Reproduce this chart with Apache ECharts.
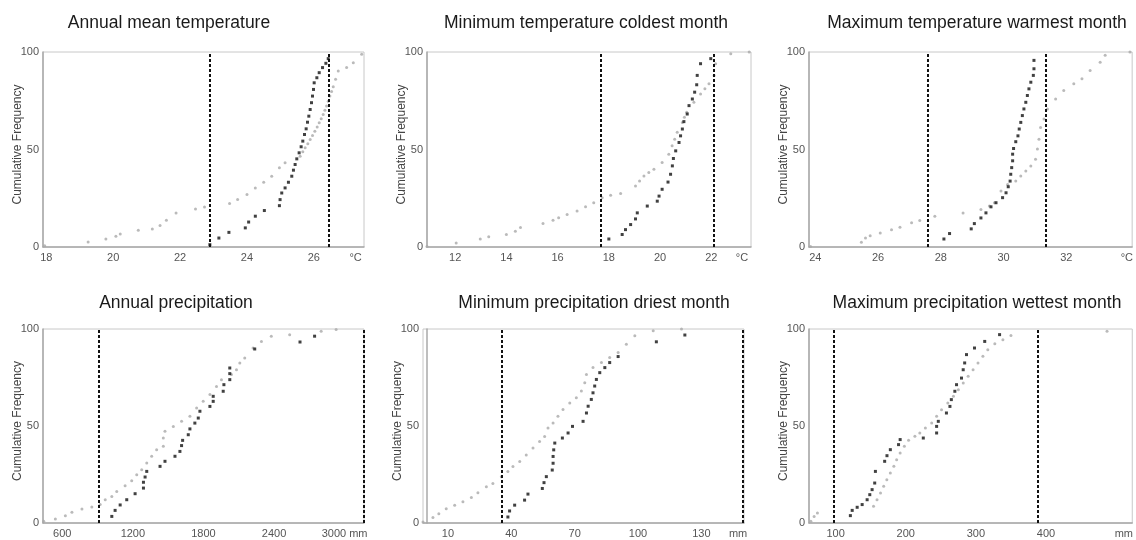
<!DOCTYPE html>
<html>
<head>
<meta charset="utf-8">
<title>Cumulative frequency of climate variables</title>
<script src="https://cdn.jsdelivr.net/npm/echarts@6/dist/echarts.min.js"></script>
<style>
  html, body { margin: 0; padding: 0; background: #fff; }
  #chart { width: 1136px; height: 540px; }
</style>
</head>
<body>
<div id="chart"></div>
<script>
// Cumulative frequency (%) against each climate variable.
// "all" = full set of localities (grey marks), "sub" = subset (black marks),
// "bounds" = the two dashed reference limits.

const panelTitles = [
  'Annual mean temperature',
  'Minimum temperature coldest month',
  'Maximum temperature warmest month',
  'Annual precipitation',
  'Minimum precipitation driest month',
  'Maximum precipitation wettest month'
];

// Annual mean temperature (°C)
const amtAll = [[17.95,0.7],[19.25,2.6],[19.78,4.1],[20.08,5.5],[20.21,6.7],[20.75,8.6],[21.17,9.2],[21.4,11],[21.59,13.7],[21.88,17.5],[22.46,19.5],[22.73,20.5],[23.48,22.3],[23.72,24.3],[24.0,26.9],[24.25,30.3],[24.5,33.2],[24.74,36.3],[24.97,40.6],[25.14,43.2],[25.59,46.6],[25.67,48.8],[25.74,50.9],[25.82,53],[25.89,55.1],[25.96,57.2],[26.03,59.4],[26.1,61.5],[26.16,63.7],[26.22,65.8],[26.28,68],[26.33,70.1],[26.38,72.3],[26.43,74.8],[26.48,77.4],[26.53,79.8],[26.58,82.2],[26.65,86],[26.73,90.2],[26.98,92],[27.18,94.5],[27.43,98.8]];
const amtSub = [[22.89,1.2],[23.16,4.6],[23.46,7.5],[23.95,9.8],[24.05,12.8],[24.25,15.8],[24.52,18.7],[24.97,21.2],[24.99,24.3],[25.04,27.7],[25.14,30.3],[25.24,33.2],[25.34,36.3],[25.39,39.4],[25.44,42.3],[25.49,45.2],[25.56,48.3],[25.62,51.4],[25.67,54.3],[25.72,57.7],[25.77,60.6],[25.81,64],[25.85,67.1],[25.89,70.5],[25.93,74],[25.96,77.4],[25.99,80.8],[26.01,84.2],[26.09,86.8],[26.16,89.4],[26.26,92],[26.36,94.2],[26.43,96.6]];
const amtBounds = [22.89, 26.44];
const amtTicks = [18, 20, 22, 24, 26];

// Minimum temperature of the coldest month (°C)
const tminAll = [[10.9,0.3],[12.04,2],[12.98,4.1],[13.31,5.2],[14.0,6.4],[14.35,8.1],[14.55,10],[15.43,12],[15.82,13.7],[16.04,15],[16.37,16.7],[16.76,18.4],[17.09,20.6],[17.41,22.7],[17.74,25.3],[18.07,26.5],[18.46,27.5],[19.04,31.3],[19.2,33.8],[19.37,36.4],[19.56,38.2],[19.76,39.9],[20.08,43.3],[20.34,47.6],[20.47,51.9],[20.57,55.3],[20.67,58.8],[20.87,63.9],[20.95,66.5],[21.04,69.1],[21.32,74.2],[21.58,78.5],[21.75,81.1],[21.91,83.7],[22.11,88],[22.17,94],[22.76,99.1],[23.48,100]];
const tminSub = [[18.0,4.1],[18.52,6.4],[18.65,8.9],[18.85,11.5],[19.04,14.4],[19.11,17.5],[19.5,21],[19.89,23.5],[19.96,26.1],[20.08,29.6],[20.31,33.3],[20.41,37.3],[20.48,41.6],[20.52,45.4],[20.61,49.3],[20.74,53.6],[20.8,57],[20.87,60.5],[20.93,64.3],[21.06,68.2],[21.13,72.5],[21.26,75.9],[21.35,79.4],[21.43,83.2],[21.45,88],[21.58,94],[21.98,96.6]];
const tminBounds = [17.7, 22.1];
const tminTicks = [12, 14, 16, 18, 20, 22];

// Maximum temperature of the warmest month (°C)
const tmaxAll = [[23.85,0.3],[25.47,2.4],[25.6,4.6],[25.75,5.8],[26.07,7.2],[26.43,8.9],[26.7,10.1],[27.07,12.4],[27.33,13.6],[27.81,15.8],[28.71,17.5],[29.28,19.2],[29.55,21],[29.71,22.7],[29.92,28.7],[30.13,32.1],[30.39,33.8],[30.55,36.4],[30.71,39],[30.87,41.6],[31.02,45],[31.08,50.2],[31.13,55.3],[31.18,61.3],[31.29,65.6],[31.4,70.8],[31.66,75.9],[31.92,80.2],[32.24,83.7],[32.5,86.3],[32.76,90.5],[33.08,94.8],[33.24,98.3],[34.03,100]];
const tmaxSub = [[28.1,4.1],[28.28,6.9],[28.97,9.3],[29.07,12],[29.28,14.9],[29.44,17.5],[29.6,20.6],[29.76,22.7],[29.97,25.3],[30.08,27.8],[30.15,30.9],[30.21,33.8],[30.23,37.3],[30.26,40.7],[30.29,44.2],[30.29,47.6],[30.32,50.5],[30.39,54],[30.46,57],[30.5,60.5],[30.55,63.9],[30.6,67.4],[30.65,70.8],[30.71,74.2],[30.76,77.7],[30.81,81.1],[30.87,84.5],[30.95,88],[30.97,91.4],[30.97,95.7]];
const tmaxBounds = [27.6, 31.34];
const tmaxTicks = [24, 26, 28, 30, 32];

// Annual precipitation (mm)
const papAll = [[442,0.9],[541,2.1],[626,3.8],[682,5.5],[767,7.2],[851,8.2],[922,9.5],[965,12],[1021,13.7],[1063,16.3],[1134,19.2],[1190,21.8],[1233,24.9],[1275,27.5],[1318,30.9],[1360,34.4],[1402,37.8],[1459,39.5],[1459,43.8],[1473,47.3],[1544,49.8],[1614,52.4],[1685,55],[1742,59.3],[1798,62.7],[1855,66.2],[1911,70.4],[1953,73.9],[2038,76.5],[2081,79],[2109,82.5],[2151,85],[2222,90.2],[2293,93.6],[2377,96.2],[2533,97.1],[2801,98.8],[2928,99.7]];
const papSub = [[1021,3.4],[1049,6.5],[1092,9.3],[1148,12],[1219,15.1],[1290,18],[1290,21],[1304,23.7],[1318,26.6],[1431,29.2],[1473,31.8],[1558,34.4],[1600,36.9],[1614,39.9],[1623,42.6],[1671,45.5],[1685,48.5],[1727,51.5],[1756,54.1],[1770,57.6],[1855,60.1],[1883,62.7],[1883,65.3],[1968,67.9],[1974,71.3],[2024,73.9],[2024,77],[2024,79.9],[2236,89.7],[2621,93.3],[2745,96.3]];
const papBounds = [908, 3160];
const papTicks = [600, 1200, 1800, 2400, 3000];

// Minimum precipitation of the driest month (mm)
const pminAll = [[-1.8,0.5],[2.9,2.8],[5.7,4.8],[9.2,7.4],[13.2,9.2],[17.1,10.9],[21.1,13.1],[24.2,15.6],[28.2,18.7],[31.3,20.4],[35.3,23.9],[38.4,26.5],[40.8,29.1],[44,31.7],[47.1,35.1],[50.3,38.6],[53.4,42],[55.8,44.6],[57.4,49],[59.8,51.6],[62.1,55],[64.5,58.5],[67.7,61.9],[70.8,64.5],[73.2,68],[74.8,72.3],[75.6,76.6],[78.7,80.1],[82.7,82.7],[86.6,85.3],[90.6,87.9],[94.5,92.2],[98.5,96.5],[107.2,99.1],[120.6,100]];
const pminSub = [[38.4,3.1],[39.2,6.2],[41.6,9.2],[46.3,11.8],[47.9,14.9],[54.7,17.8],[55.5,20.8],[56.6,23.9],[59.4,27.3],[59.8,30.8],[59.8,34.3],[60.1,37.7],[60.6,41.2],[64.2,43.8],[66.9,46.4],[69,49.8],[74,52.4],[75.6,56.7],[76.4,60.2],[77.9,63.7],[78.7,67.1],[79.5,70.6],[80.3,74],[81.9,77.5],[84.3,80.1],[86.6,82.7],[90.6,85.8],[108.7,93.4],[122.2,96.9]];
const pminBounds = [35.5, 149.8];
const pminTicks = [10, 40, 70, 100, 130];

// Maximum precipitation of the wettest month (mm)
const pmaxAll = [[64.6,0.9],[69.3,3.4],[74,5.2],[154,8.6],[159,12],[164,15.5],[168.5,18.9],[173,22.3],[178,25.8],[183,29.2],[187,32.6],[192,36.1],[198,39.5],[204,42.6],[213,44.7],[220,46.4],[228,49],[237,51.5],[244,55],[251,58.4],[260,61.9],[268,65.3],[275,68.7],[282,72.2],[289,75.6],[296,79],[303,82.5],[310,85.9],[317,89.3],[327,92.4],[338.5,94.5],[350,96.6],[487,98.8]];
const pmaxSub = [[121,3.8],[123.6,6.5],[130.7,8.1],[137.8,9.5],[144.9,12],[148.7,14.6],[152,17.2],[155.7,20.6],[156.7,26.6],[169.9,31.8],[173.2,34.7],[178,37.8],[189.7,40.4],[192,43],[225,43.8],[244,46.4],[244,49.8],[246.4,52.4],[258,56.7],[263,60.1],[265,63.6],[270,67.9],[272.4,71.3],[279.5,74.7],[281.9,79],[284,82.5],[286.6,86.8],[298,90.2],[312.6,93.6],[333.8,97.1]];
const pmaxBounds = [97.6, 388];
const pmaxTicks = [100, 200, 300, 400];

const yTicks = [0, 50, 100];

// Panel layout: plot rectangle in px, axis extent, unit label placement.
const panels = [
  { all: amtAll,  sub: amtSub,  bounds: amtBounds,  ticks: amtTicks,  min: 17.9, max: 27.5, unit: '°C', unitAt: 27.25,
    left: 43,  top: 52,  width: 321, height: 195, titleX: 169, titleY: 23 },
  { all: tminAll, sub: tminSub, bounds: tminBounds, ticks: tminTicks, min: 10.9, max: 23.55, unit: '°C', unitAt: 23.2,
    left: 427, top: 52,  width: 324, height: 195, titleX: 586, titleY: 23 },
  { all: tmaxAll, sub: tmaxSub, bounds: tmaxBounds, ticks: tmaxTicks, min: 23.8, max: 34.1, unit: '°C', unitAt: 33.93,
    left: 809, top: 52,  width: 325, height: 195, titleX: 977, titleY: 23 },
  { all: papAll,  sub: papSub,  bounds: papBounds,  ticks: papTicks,  min: 436, max: 3165, unit: '3000 mm', unitAt: 3000,
    left: 43,  top: 329, width: 321, height: 194, titleX: 176, titleY: 303 },
  { all: pminAll, sub: pminSub, bounds: pminBounds, ticks: pminTicks, min: -1.8, max: 150.2, unit: 'mm', unitAt: 147.4,
    left: 423, top: 329, width: 321, height: 194, titleX: 594, titleY: 303 },
  { all: pmaxAll, sub: pmaxSub, bounds: pmaxBounds, ticks: pmaxTicks, min: 62, max: 523, unit: 'mm', unitAt: 511,
    left: 809, top: 329, width: 325, height: 194, titleX: 977, titleY: 303 }
];

const FONT = '"Liberation Sans", Arial, sans-serif';

const grid = [], xAxis = [], yAxis = [], series = [], graphic = [];

panels.forEach((p, i) => {
  grid.push({
    left: p.left, top: p.top, width: p.width, height: p.height,
    show: true, borderColor: '#c8c8c8', borderWidth: 1, backgroundColor: '#fff'
  });

  const labelValues = p.ticks.filter(t => t !== p.unitAt).concat([p.unitAt]);
  xAxis.push({
    gridIndex: i, type: 'value', min: p.min, max: p.max,
    axisLine: { show: true, lineStyle: { color: '#a8a8a8', width: 1.5 } },
    axisTick: { show: false },
    splitLine: { show: false },
    axisLabel: {
      customValues: labelValues,
      margin: 5,
      color: '#555', fontSize: 11, fontFamily: FONT,
      formatter: v => (v === p.unitAt ? p.unit : String(v))
    }
  });

  yAxis.push({
    gridIndex: i, type: 'value', min: 0, max: 100, interval: 50,
    axisLine: { show: true, lineStyle: { color: '#a8a8a8', width: 1.5 } },
    axisTick: { show: false },
    splitLine: { show: false },
    axisLabel: {
      customValues: yTicks,
      margin: 4, color: '#555', fontSize: 11, fontFamily: FONT
    }
  });

  series.push({
    type: 'scatter', xAxisIndex: i, yAxisIndex: i,
    data: p.all, symbol: 'circle', symbolSize: 3,
    itemStyle: { color: '#a9a9a9' }, silent: true, z: 2,
    markLine: {
      silent: true, symbol: ['none', 'none'], label: { show: false },
      lineStyle: { color: '#111', width: 2, type: [3, 2] },
      data: p.bounds.map(b => ({ xAxis: b }))
    }
  });
  series.push({
    type: 'scatter', xAxisIndex: i, yAxisIndex: i,
    data: p.sub, symbol: 'rect', symbolSize: 3,
    itemStyle: { color: '#111' }, silent: true, z: 3
  });

  // panel title
  graphic.push({
    type: 'text', x: p.titleX, y: p.titleY,
    style: {
      text: panelTitles[i], fill: '#1a1a1a',
      font: '17.5px ' + FONT, textAlign: 'center', textVerticalAlign: 'middle'
    }
  });
  // vertical y-axis caption, slightly above the plot's middle
  graphic.push({
    type: 'text', x: p.left - 25, y: p.top + p.height / 2 - 5,
    rotation: Math.PI / 2,
    style: {
      text: 'Cumulative Frequency', fill: '#444',
      font: '12px ' + FONT, textAlign: 'center', textVerticalAlign: 'middle'
    }
  });
});

const chart = echarts.init(document.getElementById('chart'), null, { renderer: 'canvas' });
chart.setOption({
  animation: false,
  backgroundColor: '#fff',
  grid, xAxis, yAxis, series, graphic
});
</script>
</body>
</html>
